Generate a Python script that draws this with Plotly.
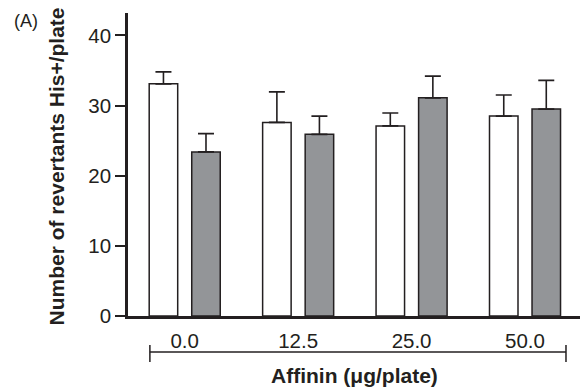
import plotly.graph_objects as go

categories = ["0.0", "12.5", "25.0", "50.0"]
white_vals = [33.1, 27.6, 27.1, 28.5]
white_err = [1.7, 4.35, 1.85, 3.0]
gray_vals = [23.4, 25.9, 31.1, 29.5]
gray_err = [2.6, 2.6, 3.1, 4.1]
y_ticks = [0, 10, 20, 30, 40]

ink = "#231f20"
font = "Liberation Sans, Arial, sans-serif"

fig = go.Figure()
fig.add_trace(go.Bar(
    x=categories, y=white_vals,
    marker=dict(color="white", line=dict(color=ink, width=1.5)),
    error_y=dict(type="data", symmetric=False, array=white_err,
                 arrayminus=[0] * len(white_err), color=ink, thickness=1.6, width=8),
    showlegend=False,
))
fig.add_trace(go.Bar(
    x=categories, y=gray_vals,
    marker=dict(color="#939598", line=dict(color=ink, width=1.5)),
    error_y=dict(type="data", symmetric=False, array=gray_err,
                 arrayminus=[0] * len(gray_err), color=ink, thickness=1.6, width=8),
    showlegend=False,
))

# page has an 8px body margin; figure is sized so the plot lands where the reference has it
fig.update_layout(
    width=580, height=382,
    margin=dict(l=120, r=4, t=5, b=74),
    paper_bgcolor="white", plot_bgcolor="white",
    barmode="group", bargap=0.25, bargroupgap=0.33,
    font=dict(family=font, color=ink, size=20),
    xaxis=dict(
        type="category", range=[-0.5, 3.52],
        showline=True, linecolor=ink, linewidth=2.5,
        ticks="", showgrid=False, zeroline=False,
        tickfont=dict(size=20.5, color=ink),
        ticklabelstandoff=5,
    ),
    yaxis=dict(
        range=[0, 43.2], tickvals=y_ticks,
        showline=True, linecolor=ink, linewidth=2.5,
        ticks="outside", ticklen=10, tickwidth=2, tickcolor=ink,
        showgrid=False, zeroline=False,
        tickfont=dict(size=20.5, color=ink),
    ),
)

# bracket under the categories
bx0, bx1 = 0.048, 0.9605
fig.add_shape(type="line", xref="paper", yref="paper", x0=bx0, x1=bx1, y0=-0.119, y1=-0.119,
              line=dict(color=ink, width=1.5))
fig.add_shape(type="line", xref="paper", yref="paper", x0=bx0, x1=bx0, y0=-0.096, y1=-0.152,
              line=dict(color=ink, width=1.5))
fig.add_shape(type="line", xref="paper", yref="paper", x0=bx1, x1=bx1, y0=-0.096, y1=-0.152,
              line=dict(color=ink, width=1.5))

fig.add_annotation(text="<b>Affinin (\u03bcg/plate)</b>", xref="x", yref="paper",
                   x=1.5, y=-0.198, showarrow=False, font=dict(size=21, color=ink),
                   xanchor="center", yanchor="middle")
fig.add_annotation(text="<b>Number of revertants His+/plate</b>", xref="paper", yref="paper",
                   x=-0.156, y=0.493, textangle=-90, showarrow=False,
                   font=dict(size=21, color=ink), xanchor="center", yanchor="middle")
fig.add_annotation(text="(A)", xref="paper", yref="paper", x=-0.2226, y=0.975,
                   showarrow=False, font=dict(size=18, color=ink),
                   xanchor="center", yanchor="middle")

fig.write_html("out.html")
